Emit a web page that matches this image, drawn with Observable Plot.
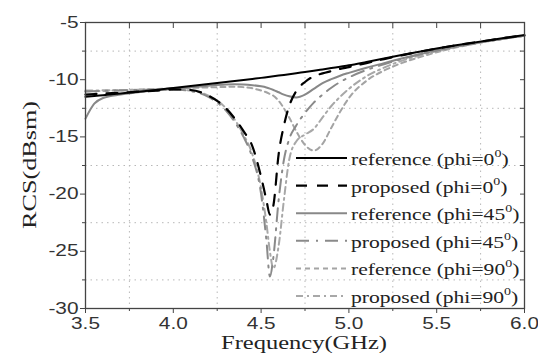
<!DOCTYPE html>
<html><head><meta charset="utf-8">
<script src="https://cdn.jsdelivr.net/npm/d3@7"></script>
<script src="https://cdn.jsdelivr.net/npm/@observablehq/plot@0.6"></script>
<style>body{margin:0;background:#fff} svg{display:block}</style>
</head><body><div id="chart"></div>
<script>
const freq = [3.5, 3.55, 3.6, 3.7, 3.8, 3.9, 4.0, 4.1, 4.2, 4.3, 4.35, 4.4, 4.45, 4.5, 4.53, 4.55, 4.57, 4.6, 4.63, 4.66, 4.7, 4.75, 4.8, 4.85, 4.9, 4.95, 5.0, 5.1, 5.2, 5.3, 5.4, 5.5, 5.6, 5.7, 5.8, 5.9, 6.0];
const refPhi0 = [-11.5, -11.42, -11.35, -11.2, -11.05, -10.9, -10.72, -10.55, -10.38, -10.2, -10.11, -10.02, -9.93, -9.84, -9.78, -9.74, -9.7, -9.64, -9.58, -9.52, -9.43, -9.33, -9.22, -9.1, -8.98, -8.86, -8.74, -8.45, -8.15, -7.85, -7.56, -7.28, -7.02, -6.78, -6.55, -6.32, -6.1];
const propPhi0 = [-11.3, -11.25, -11.2, -11.15, -11.05, -10.95, -10.85, -10.9, -11.4, -12.5, -13.4, -14.5, -15.8, -18.5, -20.5, -21.8, -21.0, -16.5, -14.0, -12.3, -11.0, -10.2, -9.7, -9.45, -9.25, -9.05, -8.9, -8.55, -8.2, -7.88, -7.56, -7.28, -7.02, -6.78, -6.55, -6.32, -6.1];
const refPhi45 = [-13.4, -12.1, -11.6, -11.3, -11.1, -10.95, -10.8, -10.65, -10.52, -10.42, -10.4, -10.42, -10.48, -10.58, -10.68, -10.78, -10.9, -11.1, -11.3, -11.45, -11.55, -11.3, -10.8, -10.3, -9.95, -9.65, -9.4, -8.95, -8.55, -8.15, -7.78, -7.42, -7.12, -6.85, -6.6, -6.37, -6.15];
const propPhi45 = [-11.0, -11.0, -10.98, -10.95, -10.9, -10.87, -10.85, -11.0, -11.5, -12.7, -13.7, -15.0, -16.8, -20.0, -24.0, -27.2, -25.5, -20.5, -17.0, -15.2, -14.0, -12.9, -12.0, -11.3, -10.7, -10.2, -9.8, -9.15, -8.65, -8.2, -7.8, -7.45, -7.13, -6.86, -6.6, -6.37, -6.15];
const refPhi90 = [-11.05, -11.0, -10.98, -10.92, -10.87, -10.82, -10.77, -10.72, -10.67, -10.63, -10.62, -10.65, -10.75, -10.95, -11.1, -11.25, -11.4, -11.85, -12.5, -13.3, -14.5, -15.7, -16.2, -15.6, -14.2, -12.8, -11.6, -10.1, -9.2, -8.55, -8.05, -7.6, -7.22, -6.9, -6.62, -6.38, -6.15];
const propPhi90 = [-10.95, -10.95, -10.93, -10.9, -10.88, -10.85, -10.85, -10.95, -11.4, -12.5, -13.5, -14.8, -16.5, -19.5, -22.5, -25.0, -26.5, -24.5, -20.5, -17.0, -15.4, -14.8, -14.3, -13.3, -12.3, -11.5, -10.8, -9.7, -8.95, -8.35, -7.9, -7.5, -7.17, -6.88, -6.62, -6.38, -6.15];

const legendNames = ["reference (phi=", "proposed (phi=", "reference (phi=", "proposed (phi=", "reference (phi=", "proposed (phi="];
const legendAngles = ["0", "0", "45", "45", "90", "90"];
const xMajor = [3.5, 4.0, 4.5, 5.0, 5.5, 6.0];
const xMinor = [3.75, 4.25, 4.75, 5.25, 5.75];
const yMajor = [-5, -10, -15, -20, -25, -30];
const yMinor = [-7.5, -12.5, -17.5, -22.5, -27.5];

// styles (legend order)
const styles = [
  {values: refPhi0, stroke: "#000000", dash: null, width: 2.0},
  {values: propPhi0, stroke: "#000000", dash: "11,10", width: 2.2},
  {values: refPhi45, stroke: "#888888", dash: null, width: 2.0},
  {values: propPhi45, stroke: "#8a8a8a", dash: "13,7,2,7", width: 2.0},
  {values: refPhi90, stroke: "#a4a4a4", dash: "5,4", width: 2.0},
  {values: propPhi90, stroke: "#a8a8a8", dash: "7,4,2,4", width: 2.0}
];
const drawOrder = [4, 5, 3, 2, 1, 0];

const tickColor = "#444";
const lineMarks = drawOrder.map(i => {
  const s = styles[i];
  const data = freq.map((f, j) => ({f, v: s.values[j]}));
  return Plot.line(data, {x: "f", y: "v", stroke: s.stroke, strokeWidth: s.width,
    strokeDasharray: s.dash, curve: "monotone-x"});
});

const chart = Plot.plot({
  width: 538, height: 360,
  marginLeft: 85, marginRight: 14, marginTop: 22, marginBottom: 52,
  style: {fontFamily: "'Liberation Sans', Arial, sans-serif", fontSize: "16px", color: "#333", background: "#fff"},
  x: {domain: [3.5, 6.0]},
  y: {domain: [-30, -5]},
  marks: [
    Plot.gridX(xMinor, {stroke: "#b8b8b8", strokeOpacity: 1, strokeDasharray: "1.5,4"}),
    Plot.gridY(yMinor, {stroke: "#b8b8b8", strokeOpacity: 1, strokeDasharray: "1.5,4"}),
    ...lineMarks,
    Plot.frame({stroke: tickColor, strokeWidth: 1.3}),
    Plot.axisX(xMajor, {anchor: "bottom", tickSize: 5, tickPadding: 4, label: null, stroke: tickColor, tickFormat: d => d.toFixed(1)}),
    Plot.axisX(xMinor, {anchor: "bottom", tickSize: 3, label: null, stroke: tickColor, tickFormat: () => ""}),
    Plot.axisX([...xMajor, ...xMinor], {anchor: "top", tickSize: -5, label: null, stroke: tickColor, tickFormat: () => ""}),
    Plot.axisY(yMajor, {anchor: "left", tickSize: 5, tickPadding: 2, label: null, stroke: tickColor, tickFormat: d => String(d)}),
    Plot.axisY(yMinor, {anchor: "left", tickSize: 3, label: null, stroke: tickColor, tickFormat: () => ""}),
    Plot.axisY([...yMajor, ...yMinor], {anchor: "right", tickSize: -5, label: null, stroke: tickColor, tickFormat: () => ""})
  ]
});
document.getElementById("chart").appendChild(chart);

const svg = d3.select(chart);
function stretch(el, k) {
  const L = el.getComputedTextLength();
  if (L > 0) { el.setAttribute("textLength", (L * k).toFixed(1)); el.setAttribute("lengthAdjust", "spacingAndGlyphs"); }
}
// stretch tick labels (reference text is horizontally wide)
svg.selectAll("g[aria-label$='tick label'] text").each(function() { stretch(this, 1.3); });

const serif = "'Liberation Serif', 'Times New Roman', serif";
// axis titles
const xt = svg.append("text").attr("x", 304).attr("y", 349).attr("text-anchor", "middle")
  .attr("font-family", serif).attr("font-size", 18).attr("fill", "#222").text("Frequency(GHz)");
stretch(xt.node(), 1.36);
const yt = svg.append("text").attr("transform", "translate(36,165) rotate(-90)").attr("text-anchor", "middle")
  .attr("font-family", serif).attr("font-size", 19).attr("fill", "#222").text("RCS(dBsm)");
stretch(yt.node(), 1.38);

// legend
const lg = svg.append("g").attr("aria-label", "legend");
styles.forEach((s, i) => {
  const y = 158 + i * 27.6;
  lg.append("line").attr("x1", 296).attr("x2", 347).attr("y1", y).attr("y2", y)
    .attr("stroke", s.stroke).attr("stroke-width", s.width).attr("stroke-dasharray", s.dash);
  const t = lg.append("text").attr("x", 351).attr("y", y + 7).attr("text-anchor", "start")
    .attr("font-family", serif).attr("font-size", 17).attr("fill", "#222");
  t.append("tspan").text(legendNames[i] + legendAngles[i]);
  t.append("tspan").attr("font-size", 11).attr("dy", -8).text("0");
  t.append("tspan").attr("dy", 8).text(")");
  stretch(t.node(), 1.27);
});
</script></body></html>
